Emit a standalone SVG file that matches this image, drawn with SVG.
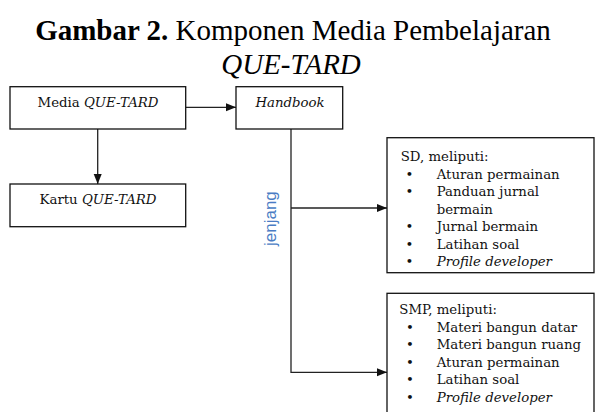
<svg xmlns="http://www.w3.org/2000/svg" width="596" height="412" viewBox="0 0 596 412">
<style>
.box{fill:#fff;stroke:#111;stroke-width:1.3}
.t{font-family:"DejaVu Serif",serif;font-size:13.3px;fill:#111}
.it{font-style:italic}
.title{font-family:"Liberation Serif","Times New Roman",serif;font-size:29px;fill:#000}
.conn{fill:none;stroke:#222;stroke-width:1.3}
.jen{font-family:"Liberation Sans",Arial,sans-serif;font-size:17px;fill:#4a7cc4}
</style>
<defs>
<marker id="arr" markerUnits="userSpaceOnUse" markerWidth="11" markerHeight="9" refX="10" refY="4" orient="auto">
<path d="M0,0 L10,4 L0,8 z" fill="#111"/>
</marker>
</defs>
<rect width="596" height="412" fill="#fff"/>
<g id="title">
<text class="title" x="293" y="40" text-anchor="middle"><tspan font-weight="bold">Gambar 2.</tspan> Komponen Media Pembelajaran</text>
<text class="title" x="291" y="74" text-anchor="middle" font-style="italic">QUE-TARD</text>
</g>
<g id="connectors">
<line class="conn" x1="185.7" y1="107.3" x2="236" y2="107.3" marker-end="url(#arr)"/>
<line class="conn" x1="97.7" y1="129" x2="97.7" y2="184" marker-end="url(#arr)"/>
<polyline class="conn" points="291,129 291,372.3 387,372.3" marker-end="url(#arr)"/>
<line class="conn" x1="291" y1="208" x2="387" y2="208" marker-end="url(#arr)"/>
<text class="jen" transform="translate(276,246) rotate(-90)">jenjang</text>
</g>
<g id="media">
<rect class="box" x="10" y="86.7" width="175.7" height="42.3"/>
<text class="t" x="98" y="106.7" text-anchor="middle">Media <tspan class="it">QUE-TARD</tspan></text>
</g>
<g id="handbook">
<rect class="box" x="236" y="86.7" width="106.7" height="42.3"/>
<text class="t it" x="290" y="106.7" text-anchor="middle">Handbook</text>
</g>
<g id="kartu">
<rect class="box" x="10" y="184" width="175.7" height="42.7"/>
<text class="t" x="98" y="204" text-anchor="middle">Kartu <tspan class="it">QUE-TARD</tspan></text>
</g>
<g id="sd">
<rect class="box" x="387" y="137.7" width="207" height="135"/>
<text class="t" x="400.7" y="161">SD, meliputi:</text>
<g text-anchor="middle" class="t"><text x="409.3" y="178.5">•</text><text x="409.3" y="196">•</text><text x="409.3" y="231">•</text><text x="409.3" y="248.5">•</text><text x="409.3" y="266">•</text></g>
<text class="t" x="436.7" y="178.5">Aturan permainan</text>
<text class="t" x="436.7" y="196">Panduan jurnal</text>
<text class="t" x="436.7" y="213.5">bermain</text>
<text class="t" x="436.7" y="231">Jurnal bermain</text>
<text class="t" x="436.7" y="248.5">Latihan soal</text>
<text class="t it" x="436.7" y="266">Profile developer</text>
</g>
<g id="smp">
<rect class="box" x="387" y="293.3" width="207" height="130"/>
<text class="t" x="399.3" y="314">SMP, meliputi:</text>
<g text-anchor="middle" class="t"><text x="410" y="331.5">•</text><text x="410" y="349">•</text><text x="410" y="366.5">•</text><text x="410" y="384">•</text><text x="410" y="401.5">•</text></g>
<text class="t" x="436.7" y="331.5">Materi bangun datar</text>
<text class="t" x="436.7" y="349">Materi bangun ruang</text>
<text class="t" x="436.7" y="366.5">Aturan permainan</text>
<text class="t" x="436.7" y="384">Latihan soal</text>
<text class="t it" x="436.7" y="401.5">Profile developer</text>
</g>
</svg>
